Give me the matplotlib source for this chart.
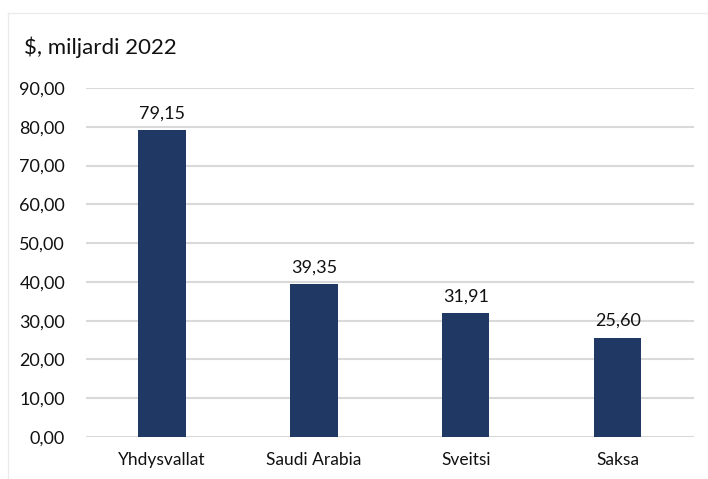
import matplotlib
matplotlib.use("Agg")
import matplotlib.pyplot as plt
from matplotlib.lines import Line2D

# data
maat = ["Yhdysvallat", "Saudi Arabia", "Sveitsi", "Saksa"]
arvot = [79.15, 39.35, 31.91, 25.60]
yticks = [0, 10, 20, 30, 40, 50, 60, 70, 80, 90]

plt.rcParams['font.family'] = ['Lato', 'DejaVu Sans']

fig = plt.figure(figsize=(7.08, 4.79), dpi=100)
ax = fig.add_axes([0.1215, 0.0877, 0.8585, 0.7286])

x = range(len(maat))
bars = ax.bar(x, arvot, width=0.31, color="#203864", zorder=3)

for i, v in enumerate(arvot):
    ax.text(i, v + 2.3, f"{v:.2f}".replace(".", ","), ha="center", va="bottom",
            fontsize=13, color="#111111")

ax.set_xlim(-0.5, len(maat) - 0.5)
ax.set_ylim(0, 90)
ax.set_yticks(yticks)
ax.set_yticklabels([f"{t:.2f}".replace(".", ",") for t in yticks], fontsize=13, color="#111111")
ax.set_xticks(list(x))
ax.set_xticklabels(maat, fontsize=12.5, color="#111111")
ax.tick_params(length=0, pad=15, axis="y")
ax.tick_params(length=0, pad=11, axis="x")

ax.grid(axis="y", color="#d9d9d9", linewidth=1.5, zorder=0)
for s in ax.spines.values():
    s.set_visible(False)

fig.text(24 / 708, 1 - 47 / 479, "$, miljardi 2022", fontsize=16, va="center", ha="left",
         color="#111111")

# faint outer frame
fig.add_artist(Line2D([8 / 708, 8 / 708], [0, 1 - 13 / 479], transform=fig.transFigure,
                      color="#ebebeb", linewidth=1))
fig.add_artist(Line2D([8 / 708, 1], [1 - 13 / 479, 1 - 13 / 479], transform=fig.transFigure,
                      color="#ebebeb", linewidth=1))

fig.savefig("out.png", dpi=100)
